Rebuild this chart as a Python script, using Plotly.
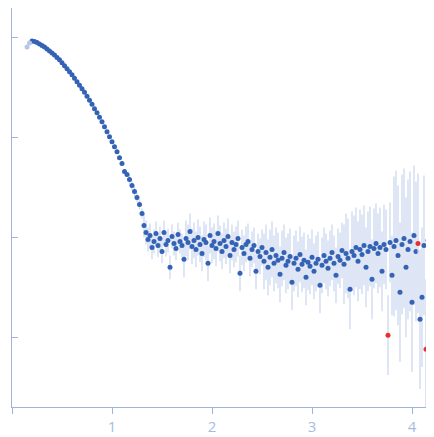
import numpy as np
import plotly.graph_objects as go

# smooth part of the curve (log10 intensity)
q_low = [0.15, 0.175, 0.2, 0.225, 0.25, 0.275, 0.3, 0.325, 0.35, 0.375, 0.4, 0.425, 0.45, 0.475,
         0.5, 0.525, 0.55, 0.575, 0.6, 0.625, 0.65, 0.675, 0.7, 0.725, 0.75, 0.775, 0.8, 0.825,
         0.85, 0.875, 0.9, 0.925, 0.95, 0.975, 1.0, 1.025, 1.05, 1.075, 1.1, 1.125, 1.15, 1.175,
         1.2, 1.225, 1.25, 1.275, 1.3]
logI_low = [2.91, 2.95, 2.97, 2.965, 2.955, 2.94, 2.925, 2.91, 2.89, 2.87, 2.85, 2.83, 2.805, 2.78,
            2.75, 2.72, 2.69, 2.66, 2.63, 2.595, 2.56, 2.525, 2.49, 2.455, 2.415, 2.375, 2.335, 2.29,
            2.25, 2.205, 2.16, 2.11, 2.06, 2.01, 1.96, 1.91, 1.86, 1.80, 1.74, 1.66, 1.63, 1.58,
            1.52, 1.46, 1.40, 1.33, 1.24]
err_low = [0.01]*35 + [0.02]*6 + [0.05]*6

# noisy tail, q from 1.32 step 0.02
logI_high = [1.12, 1.05, 0.98, 1.02, 0.90, 0.96, 1.04, 0.92, 0.99, 0.86, 1.05, 0.93, 0.97, 0.70, 1.01,
             0.94, 0.89, 1.03, 0.96, 0.92, 0.78, 0.99, 0.95, 1.06, 0.91, 0.97, 0.88, 1.00, 0.93, 0.84,
             0.98, 0.95, 0.74, 1.02, 0.92, 0.96, 0.89, 1.04, 0.94, 0.86, 0.97, 0.91, 1.01, 0.82, 0.95,
             0.88, 0.93, 0.99, 0.64, 0.90, 0.84, 0.93, 0.96, 0.79, 0.88, 0.92, 0.66, 0.86, 0.81, 0.90,
             0.76, 0.85, 0.70, 0.80, 0.88, 0.74, 0.82, 0.77, 0.63, 0.79, 0.85, 0.72, 0.76, 0.81, 0.55,
             0.74, 0.79, 0.68, 0.83, 0.73, 0.77, 0.60, 0.75, 0.71, 0.80, 0.66, 0.74, 0.78, 0.52, 0.72,
             0.82, 0.76, 0.69, 0.79, 0.85, 0.74, 0.62, 0.81, 0.77, 0.87, 0.73, 0.84, 0.79, 0.48, 0.86,
             0.82, 0.90, 0.76, 0.88, 0.83, 0.92, 0.70, 0.86, 0.91, 0.58, 0.89, 0.94, 0.84, 0.90, 0.66,
             0.93, 0.88, 0.02, 0.95, 0.62, 0.91, 0.97, 0.82, 0.45, 0.93, 0.99, 0.70, 0.88, 0.96, 0.35,
             1.02, 0.86, 0.94, 0.18, 0.40, 0.92, -0.12, 0.97, 0.52, 0.85, 0.30, 0.98, -0.20, 0.62, 0.45]
err_high = [0.12]*20 + [0.18]*40 + [0.28]*40 + [0.4]*25 + [0.7]*25
red_idx = [122, 137, 141, 143, 146, 148, 149]

q_high = list(np.round(1.32 + 0.02*np.arange(len(logI_high)), 3))

q = np.array(q_low + q_high)
logI = np.array(logI_low + logI_high)
err = np.array(err_low + err_high)
I = 10**logI
up = 10**(logI + err) - I
dn = I - 10**(logI - err)

red = np.zeros(len(q), bool)
for i in red_idx:
    red[len(q_low) + i] = True
faint = np.zeros(len(q), bool)
faint[:2] = True
ok = ~red & ~faint

fig = go.Figure()
for mask, col in [(ok, '#3462b5'), (red, '#e8302e'), (faint, '#b7c6e6')]:
    fig.add_trace(go.Scatter(x=q[mask], y=I[mask], mode='markers',
                             marker=dict(size=5, color=col),
                             error_y=dict(type='data', symmetric=False, array=up[mask],
                                          arrayminus=dn[mask], color='#c9d6ee', thickness=1.2, width=0)))

fig.update_layout(width=434, height=437, showlegend=False, plot_bgcolor='white', paper_bgcolor='white',
                  margin=dict(l=4, r=0, t=0, b=38, pad=0))
fig.update_xaxes(range=[0, 4.3], tickvals=[0, 1, 2, 3, 4], showline=True, linecolor='#9fb3dc',
                 ticks='outside', tickcolor='#9fb3dc', ticklen=6, showgrid=False, zeroline=False,
                 tickfont=dict(color='#a9bbe0', size=15, family='Open Sans'), automargin=False)
fig.update_yaxes(type='log', range=[-0.7, 3.3], tickvals=[1, 10, 100, 1000], showticklabels=False,
                 showline=True, linecolor='#9fb3dc', ticks='inside', tickcolor='#9fb3dc', ticklen=6,
                 showgrid=False, zeroline=False, automargin=False)
fig.write_html("out.html")
